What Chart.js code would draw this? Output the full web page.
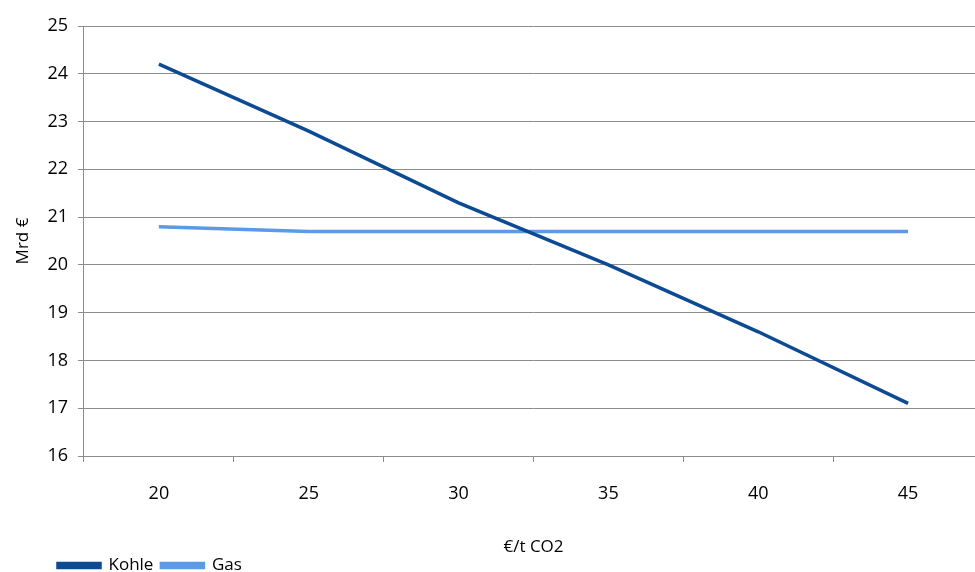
<!DOCTYPE html>
<html>
<head>
<meta charset="utf-8">
<script src="https://cdn.jsdelivr.net/npm/chart.js@4/dist/chart.umd.min.js"></script>
<style>
    html, body { margin: 0; padding: 0; background: #fff; overflow: hidden; }
    #wrap { width: 990px; height: 572px; }
</style>
</head>
<body>
<div id="wrap"><canvas id="chart" width="990" height="572"></canvas></div>
<script>
const categories = ['20', '25', '30', '35', '40', '45'];
const kohle = [24.2, 22.8, 21.3, 20.0, 18.6, 17.1];
const gas = [20.8, 20.7, 20.7, 20.7, 20.7, 20.7];
const yTicks = [16, 17, 18, 19, 20, 21, 22, 23, 24, 25];

const fontFamily = '"Open Sans", "DejaVu Sans", sans-serif';
const gridColor = '#8c8c8c';

// legend sits a bit to the right of the canvas edge in the original
const shiftLegend = {
    id: 'shiftLegend',
    beforeDraw(chart) {
        chart.legend.left = 50;
    }
};

var ctx = document.getElementById('chart').getContext('2d');
var myChart = new Chart(ctx, {
    type: 'line',
    data: {
        labels: categories,
        datasets: [{
            label: 'Kohle',
            data: kohle,
            borderColor: '#0d4a94',
            backgroundColor: '#0d4a94',
            borderWidth: 3.5,
            pointRadius: 0,
            tension: 0
        }, {
            label: 'Gas',
            data: gas,
            borderColor: '#5a9ae6',
            backgroundColor: '#5a9ae6',
            borderWidth: 3.5,
            pointRadius: 0,
            tension: 0
        }]
    },
    plugins: [shiftLegend],
    options: {
        responsive: false,
        animation: false,
        layout: {
            padding: { left: 13, top: 26, right: 7, bottom: -12 }
        },
        plugins: {
            tooltip: { enabled: false },
            legend: {
                position: 'bottom',
                align: 'start',
                labels: {
                    boxWidth: 42,
                    boxHeight: 4,
                    padding: 8,
                    color: '#000',
                    font: { family: fontFamily, size: 17 }
                }
            }
        },
        scales: {
            x: {
                offset: true,
                grid: {
                    offset: true,
                    drawOnChartArea: false,
                    drawTicks: true,
                    tickLength: 6,
                    color: gridColor
                },
                border: { color: gridColor },
                ticks: {
                    color: '#000',
                    padding: 21,
                    font: { family: fontFamily, size: 18 }
                },
                title: {
                    display: true,
                    text: '€/t CO2',
                    color: '#000',
                    padding: { top: 11, bottom: -8 },
                    font: { family: fontFamily, size: 17 }
                }
            },
            y: {
                min: 16,
                max: 25,
                afterBuildTicks: function (axis) {
                    axis.ticks = yTicks.map(v => ({ value: v }));
                },
                grid: {
                    color: gridColor,
                    tickLength: 6
                },
                border: { color: gridColor },
                ticks: {
                    color: '#000',
                    padding: 10,
                    font: { family: fontFamily, size: 18 }
                },
                title: {
                    display: true,
                    text: 'Mrd €',
                    color: '#000',
                    padding: { top: 0, bottom: 4 },
                    font: { family: fontFamily, size: 17 }
                }
            }
        }
    }
});
</script>
</body>
</html>
